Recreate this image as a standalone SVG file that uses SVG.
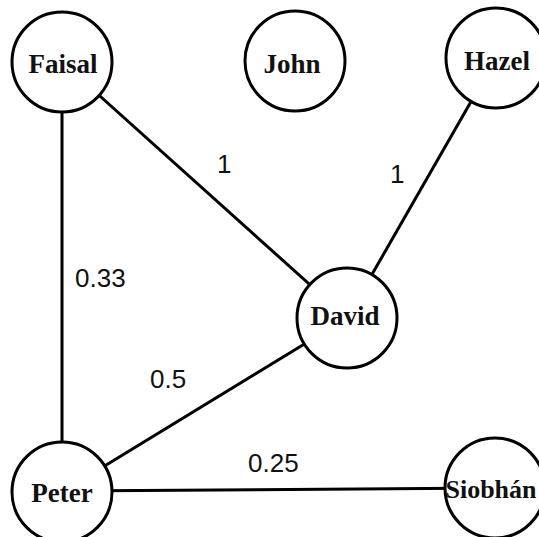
<svg xmlns="http://www.w3.org/2000/svg" width="539" height="537" viewBox="0 0 539 537">
  <style>
    .edge { stroke: #000; stroke-width: 3; fill: none; }
    .node circle { fill: #fff; stroke: #000; stroke-width: 3; }
    .node text { font-family: "Liberation Serif", "Times New Roman", serif; font-weight: bold; font-size: 27px; text-anchor: middle; fill: #111; }
    .weight { font-family: "Liberation Sans", Arial, sans-serif; font-size: 26px; fill: #111; }
  </style>
  <rect width="539" height="537" fill="#fff"/>
  <g id="connectors">
    <line class="edge" x1="62" y1="62" x2="62" y2="492"/>
    <line class="edge" x1="62" y1="62" x2="347" y2="318"/>
    <line class="edge" x1="496" y1="58" x2="347" y2="318"/>
    <line class="edge" x1="62" y1="492" x2="347" y2="318"/>
    <line class="edge" x1="62" y1="491" x2="495" y2="488"/>
    <text class="weight" x="217" y="173">1</text>
    <text class="weight" x="390" y="183">1</text>
    <text class="weight" x="75" y="287">0.33</text>
    <text class="weight" x="150" y="388">0.5</text>
    <text class="weight" x="248" y="472">0.25</text>
  </g>
  <g id="faisal" class="node">
    <circle cx="62" cy="62" r="50"/>
    <text x="63" y="73">Faisal</text>
  </g>
  <g id="john" class="node">
    <circle cx="295" cy="61" r="50"/>
    <text x="292" y="73">John</text>
  </g>
  <g id="hazel" class="node">
    <circle cx="496" cy="58" r="50"/>
    <text x="497" y="70">Hazel</text>
  </g>
  <g id="david" class="node">
    <circle cx="347" cy="318" r="50"/>
    <text x="345" y="325">David</text>
  </g>
  <g id="peter" class="node">
    <circle cx="62" cy="492" r="50"/>
    <text x="62" y="502">Peter</text>
  </g>
  <g id="siobhan" class="node">
    <circle cx="495" cy="488" r="50"/>
    <text x="491" y="498" style="font-size:26px">Siobhán</text>
  </g>
</svg>
